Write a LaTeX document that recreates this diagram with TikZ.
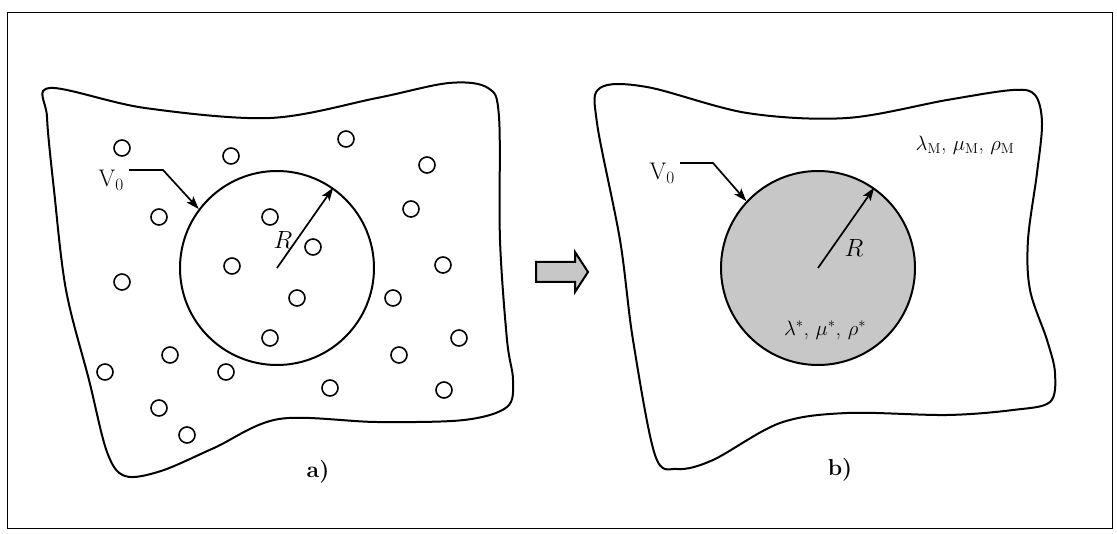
\documentclass[tikz,border=0pt]{standalone}
\usetikzlibrary{arrows.meta}
\tikzset{pore/.style={circle,draw,line width=1.6pt,minimum size=16pt,inner sep=0pt},
  cell/.style={circle,draw,line width=2pt,minimum size=194pt,inner sep=0pt},
  blob/.style={line width=2pt},
  arrow/.style={-{Stealth[length=13pt,width=9pt,inset=3pt]},line width=1.7pt},
  lbl/.style={font=\fontsize{24}{28}\selectfont,inner sep=0pt}}

\begin{document}
\begin{tikzpicture}[x=1pt,y=-1pt]
  \path[use as bounding box] (0,0) rectangle (1117,534);
  \draw[line width=1pt] (7,13) rectangle (1112,528);
  % a) matrix with inclusions
  \draw[blob] plot[smooth cycle,tension=.55] coordinates {(50,88) (145,108) (270,118)
    (377,98) (449,83) (488,88) (499,117) (500,240) (507,340) (513,380) (507,407)
    (464,420) (377,422) (279,419) (214,448) (161,471) (125,476) (107,452) (89,380)
    (66,290) (54,190) (47,117)};
  \node[cell] (ca) at (277,268) {};
  \foreach \x/\y [count=\i] in {122/148,231/156,346/139,427/165,159/217,270/217,
    411/209,313/247,232/266,443/265,122/282,297/298,393/298,270/338,459/338,
    170/355,399/355,105/372,226/372,330/388,444/390,159/408,187/435}{
    \node[pore] (p\i) at (\x,\y) {};
  }
  \draw[arrow] (ca.center) -- (ca.55);
  \node[lbl] (ra) at (283,240) {$R$};
  \node[lbl,anchor=north east,inner xsep=5pt] (va) at (129,170) {V$_0$};
  \coordinate (va-bend) at (163,170);
  \draw[arrow] (va.north east) -- (va-bend) -- (ca.143);
  \node[lbl,font=\fontsize{23}{26}\selectfont\bfseries] (sa) at (318,472) {a)};
  % transition arrow
  \draw[line width=2pt,fill=black!22] (536,262) -- (575,262) -- (575,252) -- (588,272)
    -- (575,292) -- (575,282) -- (536,282) -- cycle;
  % b) homogenised sphere
  \draw[blob] plot[smooth cycle,tension=.55] coordinates {(600,88) (647,87) (747,113)
    (847,118) (947,100) (1013,90) (1035,95) (1042,123) (1037,173) (1028,240)
    (1030,290) (1047,340) (1055,373) (1050,402) (1013,410) (947,415) (847,413)
    (780,423) (713,460) (677,469) (655,455) (633,340) (620,240) (597,123)};
  \node[cell,fill=black!22] (cb) at (818,268) {};
  \draw[arrow] (cb.center) -- (cb.55);
  \node[lbl] (rb) at (854,248) {$R$};
  \node[lbl,anchor=north east,inner xsep=5pt] (vb) at (680,163) {V$_0$};
  \coordinate (vb-bend) at (713,163);
  \draw[arrow] (vb.north east) -- (vb-bend) -- (cb.137);
  \node[lbl,font=\fontsize{21.5}{25}\selectfont] (lm) at (965,145)
    {$\lambda_{\mathrm{M}}$, $\mu_{\mathrm{M}}$, $\rho_{\mathrm{M}}$};
  \node[lbl,font=\fontsize{22}{25}\selectfont] (ls) at (825,330)
    {$\lambda^*$, $\mu^*$, $\rho^*$};
  \node[lbl,font=\fontsize{23}{26}\selectfont\bfseries] (sb) at (840,470) {b)};
\end{tikzpicture}
\end{document}
